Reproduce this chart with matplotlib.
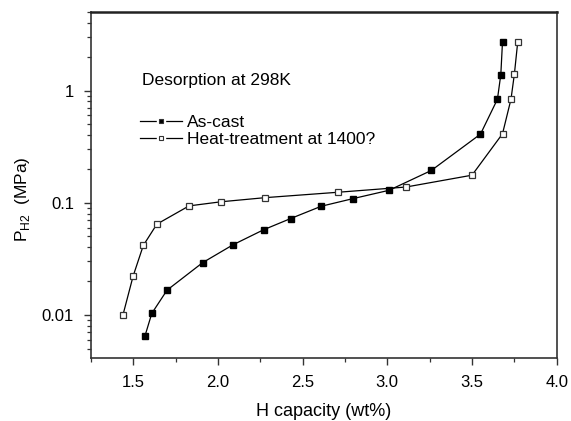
import numpy as np
import matplotlib
matplotlib.use('Agg')
import matplotlib.pyplot as plt
from matplotlib.lines import Line2D
from matplotlib.legend_handler import HandlerTuple
from matplotlib.ticker import LogLocator, MultipleLocator, NullFormatter, FixedFormatter, FixedLocator

plt.rcParams['font.family'] = ['Liberation Sans', 'DejaVu Sans']

# %% data read off the desorption isotherms
as_cast_x = [1.57, 1.61, 1.70, 1.91, 2.09, 2.27, 2.43, 2.61, 2.80, 3.01, 3.26, 3.55, 3.65, 3.67, 3.68]
as_cast_p = [0.0065, 0.0103, 0.0166, 0.0292, 0.0422, 0.0574, 0.0723, 0.093, 0.109, 0.129,
             0.194, 0.409, 0.837, 1.39, 2.73]
heat_x = [1.44, 1.50, 1.56, 1.64, 1.83, 2.02, 2.28, 2.71, 3.11, 3.50, 3.68, 3.73, 3.75, 3.77]
heat_p = [0.010, 0.0222, 0.0416, 0.0644, 0.0937, 0.102, 0.111, 0.124, 0.138, 0.176,
          0.412, 0.837, 1.40, 2.73]

labels = ['As-cast', 'Heat-treatment at 1400?']
x_ticks = [1.5, 2.0, 2.5, 3.0, 3.5, 4.0]
y_ticks = [0.01, 0.1, 1]
y_tick_labels = ['0.01', '0.1', '1']

# %% plot
fig = plt.figure(figsize=(5.71, 4.21), dpi=100)
ax = fig.add_axes([0.159, 0.149, 0.816, 0.822])

ax.plot(as_cast_x, as_cast_p, '-s', color='black', lw=0.9, ms=4.5,
        mfc='black', mec='black')
ax.plot(heat_x, heat_p, '-s', color='black', lw=0.9, ms=4.5,
        mfc='white', mec='#333333', mew=0.9)

ax.set_yscale('log')
ax.set_xlim(1.25, 4.0)
ax.set_ylim(0.0041, 5.0)

ax.xaxis.set_major_locator(FixedLocator(x_ticks))
ax.xaxis.set_minor_locator(MultipleLocator(0.25))
ax.yaxis.set_major_locator(FixedLocator(y_ticks))
ax.yaxis.set_major_formatter(FixedFormatter(y_tick_labels))
ax.yaxis.set_minor_locator(LogLocator(base=10, subs=np.arange(2, 10)))
ax.yaxis.set_minor_formatter(NullFormatter())

ax.tick_params(which='major', direction='out', length=5, width=1.0, labelsize=12,
               color='#333333', pad=7)
ax.tick_params(which='minor', direction='out', length=3, width=0.9, color='#333333')

for side in ['left', 'bottom', 'right']:
    ax.spines[side].set_linewidth(1.2)
    ax.spines[side].set_color('#333333')
ax.spines['top'].set_linewidth(1.8)
ax.spines['top'].set_color('#222222')

ax.set_xlabel('H capacity (wt%)', fontsize=13, va='center')
ax.xaxis.set_label_coords(0.5, -0.155)
ax.set_ylabel('P$_{\\mathregular{ H2}}$  (MPa)', fontsize=12.5, va='center')
ax.yaxis.set_label_coords(-0.147, 0.46)

ax.text(0.110, 0.804, 'Desorption at 298K', transform=ax.transAxes,
        fontsize=12.5, va='center', ha='left')

# legend handles: line broken by a small square marker
handles = []
for fc in ['black', 'white']:
    line = Line2D([], [], color='black', lw=0.9)
    gap = Line2D([], [], ls='none', marker='s', ms=6, mfc='white', mec='white')
    mark = Line2D([], [], ls='none', marker='s', ms=3.3, mfc=fc, mec='#333333', mew=0.8)
    handles.append((line, gap, mark))
ax.legend(handles, labels, handler_map={tuple: HandlerTuple(ndivide=1, pad=0)},
          loc='upper left', bbox_to_anchor=(0.106, 0.703), frameon=False,
          fontsize=12.5, handlelength=2.4, handletextpad=0.3, labelspacing=0.1,
          borderpad=0, borderaxespad=0)

fig.savefig('out.png', dpi=100)
